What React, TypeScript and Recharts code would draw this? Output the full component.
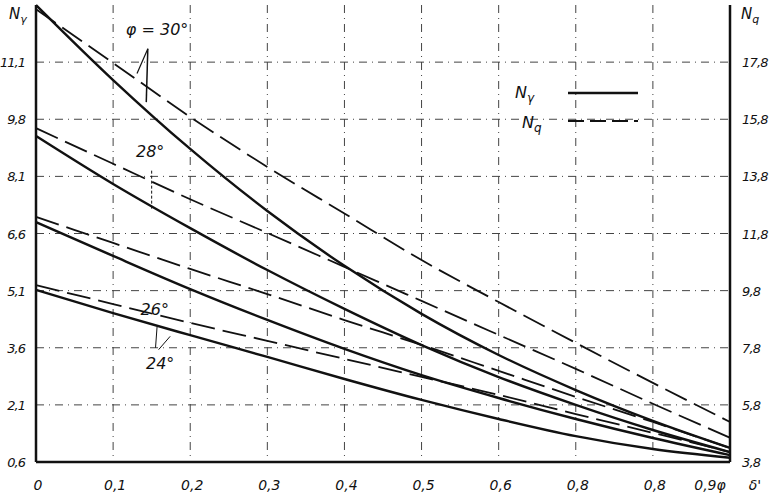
import React from 'react';
import {
  LineChart,
  Line,
  XAxis,
  YAxis,
  CartesianGrid,
  ReferenceLine,
} from 'recharts';

// relative depth δ'
const deltas = [0, 0.1, 0.2, 0.3, 0.4, 0.5, 0.6, 0.7, 0.8, 0.9];
const xTickLabels = ['0', '0,1', '0,2', '0,3', '0,4', '0,5', '0,6', '0,8', '0,8', '0,9φ'];

// N_γ (left axis), solid
const ng30 = [12.6, 10.63, 8.82, 7.19, 5.75, 4.49, 3.41, 2.49, 1.68, 0.97];
const ng28 = [9.16, 7.9, 6.74, 5.64, 4.62, 3.67, 2.83, 2.1, 1.44, 0.86];
const ng26 = [6.9, 6.01, 5.14, 4.33, 3.57, 2.88, 2.28, 1.73, 1.23, 0.78];
const ng24 = [5.12, 4.51, 3.93, 3.36, 2.78, 2.23, 1.73, 1.28, 0.94, 0.71];

// N_q (right axis), dashed
const nq30 = [19.65, 17.77, 15.88, 14.13, 12.5, 10.87, 9.4, 7.97, 6.57, 5.2];
const nq28 = [15.49, 14.24, 13.0, 11.82, 10.63, 9.44, 8.25, 7.06, 5.84, 4.65];
const nq26 = [12.38, 11.47, 10.56, 9.68, 8.77, 7.9, 6.99, 6.08, 5.2, 4.29];
const nq24 = [9.99, 9.33, 8.67, 8.04, 7.41, 6.78, 6.15, 5.48, 4.82, 4.15];

const leftTicks = [0.6, 2.1, 3.6, 5.1, 6.6, 8.1, 9.6, 11.1];
const leftTickLabels = ['0,6', '2,1', '3,6', '5,1', '6,6', '8,1', '9,8', '11,1'];
const rightTicks = [3.8, 5.8, 7.8, 9.8, 11.8, 13.8, 15.8, 17.8];
const rightTickLabels = ['3,8', '5,8', '7,8', '9,8', '11,8', '13,8', '15,8', '17,8'];

const angleLabels = [
  { text: 'φ = 30°', x: 0.157, y: 11.95 },
  { text: '28°', x: 0.148, y: 8.75 },
  { text: '26°', x: 0.154, y: 4.6 },
  { text: '24°', x: 0.161, y: 3.2 },
];

const data = deltas.map((d, i) => ({
  d,
  ng30: ng30[i],
  ng28: ng28[i],
  ng26: ng26[i],
  ng24: ng24[i],
  nq30: nq30[i],
  nq28: nq28[i],
  nq26: nq26[i],
  nq24: nq24[i],
}));

const FONT = '"DejaVu Sans", sans-serif';
const INK = '#111';

const XTick = ({ x, y, index }: any) => {
  const last = index === xTickLabels.length - 1;
  return (
    <g>
      <text
        x={last ? x - 20 : x + 2}
        y={y + 20}
        textAnchor="middle"
        fontFamily={FONT}
        fontStyle="italic"
        fontSize={14}
        fill={INK}
      >
        {xTickLabels[index]}
      </text>
      {last && (
        <text x={x + 25} y={y + 20} textAnchor="middle" fontFamily={FONT} fontStyle="italic" fontSize={14} fill={INK}>
          δ'
        </text>
      )}
    </g>
  );
};

const LeftTick = ({ x, y, index }: any) => (
  <text x={x - 3} y={y + 5} textAnchor="end" fontFamily={FONT} fontStyle="italic" fontSize={13} letterSpacing={-1} fill={INK}>
    {leftTickLabels[index]}
  </text>
);

const RightTick = ({ x, y, index }: any) => (
  <text x={x + 4} y={y + 5} textAnchor="start" fontFamily={FONT} fontStyle="italic" fontSize={13} letterSpacing={-0.8} fill={INK}>
    {rightTickLabels[index]}
  </text>
);

const LegendBox = () => (
  <svg width={160} height={60} style={{ position: 'absolute', left: 500, top: 78 }}>
    <text x={15} y={20} fontFamily={FONT} fontStyle="italic" fontSize={16} fill={INK}>
      N<tspan fontSize={12} dy={4}>γ</tspan>
    </text>
    <line x1={68} y1={15} x2={138} y2={15} stroke={INK} strokeWidth={2.4} />
    <text x={22} y={50} fontFamily={FONT} fontStyle="italic" fontSize={16} fill={INK}>
      N<tspan fontSize={12} dy={4}>q</tspan>
    </text>
    <line x1={68} y1={43} x2={138} y2={43} stroke={INK} strokeWidth={1.8} strokeDasharray="16 6" />
  </svg>
);

export default function App() {
  return (
    <div style={{ position: 'absolute', left: 0, top: 0, width: 770, height: 497, background: '#fff' }}>
      <LineChart width={770} height={497} data={data} margin={{ top: 5, right: 0, bottom: 0, left: 0 }}>
        <CartesianGrid
          yAxisId="left"
          stroke="#444"
          strokeWidth={1}
          strokeDasharray="8 5 1 5"
          horizontalValues={leftTicks}
          verticalValues={deltas}
        />
        <XAxis
          dataKey="d"
          type="number"
          domain={[0, 0.9]}
          ticks={deltas}
          height={35}
          tick={<XTick />}
          tickLine={false}
          axisLine={{ stroke: INK, strokeWidth: 2.5 }}
        />
        <YAxis
          yAxisId="left"
          type="number"
          domain={[0.6, 12.6]}
          ticks={leftTicks}
          width={36}
          tick={<LeftTick />}
          tickLine={false}
          axisLine={{ stroke: INK, strokeWidth: 2.5 }}
        />
        <YAxis
          yAxisId="right"
          orientation="right"
          type="number"
          domain={[3.8, 19.8]}
          ticks={rightTicks}
          width={40}
          tick={<RightTick />}
          tickLine={false}
          axisLine={{ stroke: INK, strokeWidth: 2.5 }}
        />

        {/* leader lines for the angle labels */}
        <ReferenceLine yAxisId="left" segment={[{ x: 0.145, y: 11.45 }, { x: 0.143, y: 10.05 }]} stroke={INK} strokeWidth={1.5} />
        <ReferenceLine yAxisId="left" segment={[{ x: 0.145, y: 11.45 }, { x: 0.131, y: 10.8 }]} stroke={INK} strokeWidth={1.2} />
        <ReferenceLine yAxisId="left" segment={[{ x: 0.15, y: 8.25 }, { x: 0.15, y: 7.2 }]} stroke={INK} strokeWidth={1} strokeDasharray="3 2" />
        <ReferenceLine yAxisId="left" segment={[{ x: 0.157, y: 4.15 }, { x: 0.155, y: 3.6 }]} stroke={INK} strokeWidth={1} />
        <ReferenceLine yAxisId="left" segment={[{ x: 0.159, y: 3.55 }, { x: 0.174, y: 3.9 }]} stroke={INK} strokeWidth={1} />

        <Line yAxisId="left" dataKey="ng30" type="monotone" stroke={INK} strokeWidth={2.4} dot={false} isAnimationActive={false} />
        <Line yAxisId="left" dataKey="ng28" type="monotone" stroke={INK} strokeWidth={2.4} dot={false} isAnimationActive={false} />
        <Line yAxisId="left" dataKey="ng26" type="monotone" stroke={INK} strokeWidth={2.4} dot={false} isAnimationActive={false} />
        <Line yAxisId="left" dataKey="ng24" type="monotone" stroke={INK} strokeWidth={2.4} dot={false} isAnimationActive={false} />
        <Line yAxisId="right" dataKey="nq30" type="monotone" stroke={INK} strokeWidth={1.8} strokeDasharray="24 8" dot={false} isAnimationActive={false} />
        <Line yAxisId="right" dataKey="nq28" type="monotone" stroke={INK} strokeWidth={1.8} strokeDasharray="24 8" dot={false} isAnimationActive={false} />
        <Line yAxisId="right" dataKey="nq26" type="monotone" stroke={INK} strokeWidth={1.8} strokeDasharray="24 8" dot={false} isAnimationActive={false} />
        <Line yAxisId="right" dataKey="nq24" type="monotone" stroke={INK} strokeWidth={1.8} strokeDasharray="24 8" dot={false} isAnimationActive={false} />

        {angleLabels.map((a) => (
          <ReferenceLine
            key={a.text}
            yAxisId="left"
            segment={[{ x: a.x, y: a.y }, { x: a.x + 0.0001, y: a.y }]}
            stroke="none"
            label={{ value: a.text, position: 'center', fontFamily: FONT, fontStyle: 'italic', fontSize: 16, fill: INK }}
          />
        ))}
      </LineChart>
      <LegendBox />
      <div
        style={{ position: 'absolute', left: 9, top: 5, fontFamily: FONT, fontStyle: 'italic', fontSize: 15, color: INK }}
      >
        N<sub style={{ fontSize: 11 }}>γ</sub>
      </div>
      <div
        style={{ position: 'absolute', left: 741, top: 5, fontFamily: FONT, fontStyle: 'italic', fontSize: 15, color: INK }}
      >
        N<sub style={{ fontSize: 11 }}>q</sub>
      </div>
    </div>
  );
}
